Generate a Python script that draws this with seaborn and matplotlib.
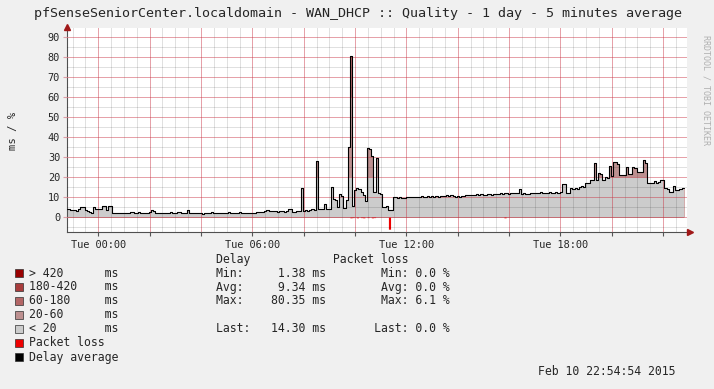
import numpy as np
import pandas as pd
import matplotlib
matplotlib.use("Agg")
import matplotlib.pyplot as plt
import matplotlib.dates as mdates
from matplotlib.patches import Rectangle
from matplotlib.ticker import MultipleLocator, FuncFormatter, FixedLocator
import seaborn as sns

# 5 minute averages, Mon 22:48 -> Tue 22:48 (288 samples)
start = "2015-02-09 22:48"
delay_ms = [
    3.8, 3.6, 3.6, 3.3, 3.2, 4.1, 4.9, 4.8, 3.3, 3.2, 2.3, 1.9, 5.0, 4.2, 4.1, 3.8,
    5.6, 5.5, 3.3, 5.6, 5.4, 2.0, 2.2,
    1.8, 1.9, 2.1, 2.2, 2.2, 2.0, 2.3, 2.4, 2.2, 2.1, 2.3, 2.2, 2.0, 2.1, 2.2, 2.3,
    3.4, 3.0,
    1.9, 1.8, 2.0, 2.1, 1.9, 1.8, 2.0, 2.4, 2.2, 2.0, 2.3, 2.5, 2.1, 1.9, 2.0,
    3.6,
    2.0, 1.9, 1.8, 1.9, 2.0, 1.8, 1.4, 1.9, 2.0, 2.2, 2.4, 2.0, 1.8, 1.9, 1.8, 2.0,
    1.9, 2.1, 2.3, 1.9, 1.8, 2.0, 2.1, 2.3, 2.0, 1.9, 2.1, 1.8, 2.0, 2.2, 2.1, 2.3,
    2.6, 2.7, 2.5, 2.8, 3.3, 3.2, 3.0, 2.8, 2.9, 2.7, 3.0, 2.8, 2.6,
    2.8, 4.2, 3.9, 2.7, 2.6, 2.8, 2.9,
    14.3,
    3.2, 3.3, 3.1, 3.6, 3.9, 3.6,
    28.0,
    4.0, 4.1, 3.9, 6.3, 3.9, 4.0,
    14.8, 8.8, 8.5, 5.0, 11.5, 10.5, 4.3, 8.5,
    35.0, 80.35,
    5.5, 13.5, 14.3, 13.8, 12.7, 11.0, 8.0, 34.3, 34.0, 30.5, 12.7, 29.3, 12.0, 11.5,
    5.2, 5.0, 5.5, 3.5, 3.3, 10.2,
    9.9, 9.7, 9.8, 9.6, 9.7, 9.9, 10.0, 9.8, 9.9, 10.1, 10.2, 10.0, 10.3, 10.1, 10.2,
    10.4, 10.2, 10.3, 10.1, 10.4, 10.2, 10.3, 10.5,
    10.6, 10.8, 10.7, 10.9, 10.4, 10.2, 10.3, 10.0, 10.4, 10.6,
    10.8, 11.0, 10.9, 11.2, 11.0, 11.3, 11.1, 11.4, 11.2, 11.0, 11.3, 11.5, 11.2, 11.4, 11.6,
    11.7, 11.9, 11.6, 11.8, 12.0, 11.7, 11.9, 12.1, 11.8, 11.9,
    13.8,
    11.6, 11.8, 11.7, 11.5, 11.9, 12.2, 12.0, 11.8, 12.1, 12.3, 12.0, 11.9, 12.2, 12.4,
    12.1, 12.0, 12.3, 12.2,
    12.5, 16.5, 16.3, 12.0, 11.8, 14.3, 14.0, 14.5, 14.2, 15.0,
    15.3, 14.8, 16.8, 17.0, 18.5, 18.3, 27.0, 18.5, 22.0, 21.5, 18.5, 20.0, 19.5, 25.5,
    20.5, 27.7, 27.5, 26.5, 21.0, 21.0,
    21.0, 24.8, 21.7, 21.7, 24.8, 24.5, 22.5, 22.5, 22.5, 28.5, 27.0, 17.0, 17.2, 17.0,
    18.0, 17.2, 17.5, 18.5, 18.3, 14.3, 14.0, 12.7, 12.7, 15.5, 13.5, 13.5, 14.0, 14.3,
]
# packet loss (%) only where it is non zero
loss_index = [132, 133, 135, 137, 138, 140, 142, 143, 150, 204]
loss_pct = [0.4, 0.3, 0.4, 0.3, 0.4, 0.3, 0.4, 0.3, 6.1, 0.4]

band_labels = ["> 420", "180-420", "60-180", "20-60", "< 20"]
band_limits = [None, 420, 180, 60, 20]
band_colors = ["#990000", "#a83c3c", "#b36666", "#bd9090", "#cccccc"]
loss_color = "#ee0000"

delay_stats = [("Min:", "1.38"), ("Avg:", "9.34"), ("Max:", "80.35"), None, ("Last:", "14.30")]
loss_stats = [("Min:", "0.0"), ("Avg:", "0.0"), ("Max:", "6.1"), None, ("Last:", "0.0")]

title = "pfSenseSeniorCenter.localdomain - WAN_DHCP :: Quality - 1 day - 5 minutes average"
stamp = "Feb 10 22:54:54 2015"

W, H = 714, 389
delay = np.array(delay_ms)
loss = np.zeros(len(delay))
loss[loss_index] = loss_pct
times = pd.date_range(start, periods=len(delay) + 1, freq="5min")
d = np.append(delay, delay[-1])
l = np.append(loss, loss[-1])

sns.set_style("white")
plt.rcParams["font.family"] = ["DejaVu Sans Mono"]

fig = plt.figure(figsize=(W / 100, H / 100), dpi=100, facecolor="#f0f0f0")
ax = fig.add_axes([67 / W, 1 - 231.7 / H, 620 / W, (231.7 - 28) / H])
ax.set_facecolor("white")

# rrdtool style stacked areas, darkest first
for lim, col in zip(band_limits, band_colors):
    top = d if lim is None else np.minimum(d, lim)
    ax.fill_between(times, 0, top, step="post", color=col, lw=0, zorder=1)
ax.fill_between(times, 0, -l, step="post", color=loss_color, lw=0, zorder=1)

df = pd.DataFrame({"time": times, "delay": d})
sns.lineplot(data=df, x="time", y="delay", drawstyle="steps-post", color="black",
             lw=0.8, ax=ax, zorder=3)

ax.set_xlim(pd.Timestamp("2015-02-09 22:46:52"), pd.Timestamp("2015-02-10 22:55:48"))
ax.set_ylim(-7.35, 94.5)
ax.set_xlabel("")
ax.set_ylabel("")

def fmt_x(v, pos):
    t = mdates.num2date(v)
    return t.strftime("%a %H:%M") if t.hour % 6 == 0 else ""

half_hours = pd.date_range("2015-02-09 22:30", "2015-02-10 23:00", freq="30min")
minor_x = [mdates.date2num(t) for t in half_hours if not (t.minute == 0 and t.hour % 2 == 0)]
ax.xaxis.set_major_locator(mdates.HourLocator(byhour=range(0, 24, 2)))
ax.xaxis.set_minor_locator(FixedLocator(minor_x))
ax.xaxis.set_major_formatter(FuncFormatter(fmt_x))
ax.yaxis.set_major_locator(MultipleLocator(10))
ax.yaxis.set_minor_locator(FixedLocator(np.arange(-5, 95, 10)))
ax.set_axisbelow(False)
ax.grid(which="minor", color="#000000", alpha=0.12, lw=0.72, antialiased=False)
ax.grid(which="major", color="#c83040", alpha=0.45, lw=0.72, antialiased=False)

ax.tick_params(axis="x", which="major", length=3, width=0.8, color="#555555",
               pad=3, labelsize=7.4, direction="out", bottom=True)
ax.tick_params(axis="y", which="major", length=3, width=0.8, color="#e0a0a8",
               pad=2, labelsize=7.4, direction="out", left=True)
ax.tick_params(which="minor", length=0)

sns.despine(ax=ax)
for s in ("left", "bottom"):
    ax.spines[s].set_color("#505050")
    ax.spines[s].set_linewidth(0.8)
ax.plot([1 + 3 / 620], [0], marker=">", ms=5, color="#a01818", transform=ax.transAxes,
        clip_on=False, zorder=5)
ax.plot([0], [1 + 1 / 204], marker="^", ms=5, color="#a01818", transform=ax.transAxes,
        clip_on=False, zorder=5)

fig.text(358 / W, 1 - 14 / H, title, ha="center", va="center", fontsize=9.6)
fig.text(13 / W, 1 - 131 / H, "ms / %", rotation=90, ha="center", va="center", fontsize=7.6)
fig.text(706 / W, 1 - 90 / H, "RRDTOOL / TOBI OETIKER", rotation=270, ha="center",
         va="center", fontsize=6.0, color="#b0b0b0")

# legend block
fs = 8.3
rows = [273.3, 287, 301, 315, 329, 343, 357]
fig.text(216 / W, 1 - 259 / H, "Delay" + " " * 12 + "Packet loss", va="center", fontsize=fs)
entries = [(lab + " " * (11 - len(lab)) + "ms", col) for lab, col in zip(band_labels, band_colors)]
entries += [("Packet loss", loss_color), ("Delay average", "#000000")]
for y, (txt, col) in zip(rows, entries):
    fig.add_artist(Rectangle((15 / W, 1 - (y + 4) / H), 8 / W, 8 / H, transform=fig.transFigure,
                             facecolor=col, edgecolor="#303030", lw=0.5))
    fig.text(29 / W, 1 - y / H, txt, va="center", fontsize=fs)
for y, ds, ls in zip(rows, delay_stats, loss_stats):
    if ds is None:
        continue
    left = f"{ds[0]:<8}{ds[1]:>5} ms"
    right = f"{ls[0]:>5} {ls[1]} %"
    fig.text(216 / W, 1 - y / H, left + " " * 7 + right, va="center", fontsize=fs)

fig.text(675 / W, 1 - 371.7 / H, stamp, ha="right", va="center", fontsize=fs)

fig.savefig("out.png", dpi=100, facecolor=fig.get_facecolor())
